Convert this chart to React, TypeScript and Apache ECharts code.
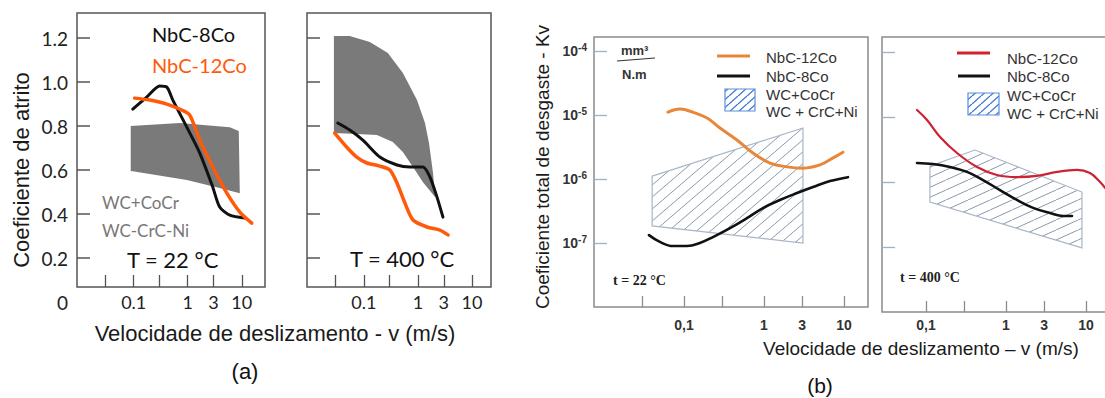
import { useEffect, useRef } from 'react';
import * as echarts from 'echarts';

// ---------- (a) friction coefficient vs sliding speed ----------
const A22_8CO_V = [0.096, 0.174, 0.303, 0.41, 0.53, 0.96, 1.67, 2.9, 3.9, 6.0, 11.4];
const A22_8CO_F = [0.877, 0.932, 0.982, 0.977, 0.918, 0.795, 0.677, 0.523, 0.432, 0.395, 0.382];
const A22_12CO_V = [0.104, 0.198, 0.41, 0.77, 1.09, 1.67, 2.9, 5.3, 9.2, 15.3];
const A22_12CO_F = [0.927, 0.918, 0.9, 0.873, 0.85, 0.736, 0.614, 0.495, 0.409, 0.359];
const A22_BAND_TOP_V = [0.088, 0.71, 6.0, 8.8, 9.2];
const A22_BAND_TOP_F = [0.8, 0.814, 0.795, 0.777, 0.495];
const A22_BAND_BOT_V = [3.9, 0.96, 0.096, 0.088];
const A22_BAND_BOT_F = [0.518, 0.555, 0.595, 0.595];

const A400_8CO_V = [0.033, 0.055, 0.096, 0.198, 0.41, 0.71, 1.24, 1.67, 2.25, 2.9];
const A400_8CO_F = [0.814, 0.782, 0.736, 0.659, 0.623, 0.614, 0.614, 0.568, 0.477, 0.386];
const A400_12CO_V = [0.029, 0.048, 0.074, 0.114, 0.198, 0.303, 0.41, 0.574, 0.81, 1.47, 2.55, 3.6];
const A400_12CO_F = [0.768, 0.705, 0.659, 0.632, 0.618, 0.6, 0.541, 0.45, 0.373, 0.341, 0.327, 0.305];
const A400_BAND_TOP_V = [0.028, 0.055, 0.129, 0.278, 0.527, 0.96, 1.35, 1.6, 1.9, 2.07];
const A400_BAND_TOP_F = [1.209, 1.209, 1.182, 1.132, 1.041, 0.918, 0.814, 0.723, 0.586, 0.477];
const A400_BAND_BOT_V = [1.24, 0.81, 0.527, 0.344, 0.174, 0.074, 0.028];
const A400_BAND_BOT_F = [0.545, 0.614, 0.682, 0.727, 0.759, 0.764, 0.768];

// ---------- (b) total wear coefficient vs sliding speed ----------
const B22_12CO_V = [0.063, 0.089, 0.129, 0.194, 0.282, 0.459, 0.728, 1.19, 1.94, 3.08, 5.0, 7.3, 9.7];
const B22_12CO_K = [1.11e-5, 1.24e-5, 1.11e-5, 8.97e-6, 6.27e-6, 4.07e-6, 2.55e-6, 1.78e-6, 1.55e-6, 1.48e-6, 1.66e-6, 2.14e-6, 2.63e-6];
const B22_8CO_V = [0.0365, 0.05, 0.0728, 0.109, 0.158, 0.23, 0.376, 0.612, 0.97, 1.58, 2.59, 4.1, 6.68, 11.2];
const B22_8CO_K = [1.33e-7, 1.04e-7, 8.97e-8, 8.97e-8, 1.0e-7, 1.24e-7, 1.71e-7, 2.45e-7, 3.52e-7, 4.7e-7, 6.04e-7, 7.5e-7, 9.3e-7, 1.07e-6];
const B22_WC_V = [0.04, 3.07, 3.07, 0.04];
const B22_WC_K = [1.11e-6, 6.27e-6, 1.0e-7, 1.85e-7];

const B400_12CO_V = [0.0772, 0.103, 0.15, 0.244, 0.434, 0.772, 1.37, 2.44, 4.34, 7.72, 11.2, 15.0, 17.3];
const B400_12CO_K = [1.28e-5, 9.0e-6, 4.92e-6, 2.79e-6, 1.7e-6, 1.28e-6, 1.19e-6, 1.24e-6, 1.43e-6, 1.53e-6, 1.37e-6, 1.0e-6, 8.1e-7];
const B400_8CO_V = [0.0772, 0.122, 0.2, 0.326, 0.516, 0.841, 1.37, 2.18, 3.55, 5.16, 6.68];
const B400_8CO_K = [1.96e-6, 1.89e-6, 1.7e-6, 1.43e-6, 1.07e-6, 7.5e-7, 5.3e-7, 4.0e-7, 3.33e-7, 3.0e-7, 3.0e-7];
const B400_WC_V = [0.112, 0.41, 8.9, 8.9, 0.112];
const B400_WC_K = [1.76e-6, 3.1e-6, 7.0e-7, 9.7e-8, 4.9e-7];

// ---------- ticks ----------
const X_TICKS = [0.03, 0.1, 0.3, 1, 3, 10];
const X_TICKS_B400 = [0.1, 0.3, 1, 3, 10];
const X_LABEL_V = [0.1, 1, 3, 10];
const X_LABELS_A = ['0.1', '1', '3', '10'];
const X_LABELS_B = ['0,1', '1', '3', '10'];
const Y_A_TICKS = [0.2, 0.4, 0.6, 0.8, 1.0, 1.2];
const Y_A_LABELS = [0, 0.2, 0.4, 0.6, 0.8, 1.0, 1.2];
const Y_B_EXP = [-7, -6, -5, -4];

const lg = Math.log10;
const SANS = '"Liberation Sans", Arial, sans-serif';
const CAL = 'Lato, "Open Sans", sans-serif';
const SERIF = '"Liberation Serif", "Times New Roman", serif';

const ptsA = (v: number[], f: number[]) => v.map((x, i) => [lg(x), f[i]]);
const ptsB = (v: number[], k: number[]) => v.map((x, i) => [lg(x), lg(k[i])]);

function makeHatch(w: number, h: number, color: string, lw: number) {
  const c = document.createElement('canvas');
  c.width = w;
  c.height = h;
  const ctx = c.getContext('2d')!;
  ctx.strokeStyle = color;
  ctx.lineWidth = lw;
  for (const dx of [-w, 0, w]) {
    ctx.beginPath();
    ctx.moveTo(dx, h);
    ctx.lineTo(dx + w, 0);
    ctx.stroke();
  }
  return { image: c, repeat: 'repeat', imageWidth: w, imageHeight: h };
}

export default function App() {
  const ref = useRef<HTMLDivElement>(null);
  useEffect(() => {
    const chart = echarts.init(ref.current!, null, { renderer: 'svg' });

    const hatchL = makeHatch(14, 12, '#8899ae', 1);
    const hatchR = makeHatch(22, 10, '#8899ae', 1);
    const hatchLeg = makeHatch(9, 8, '#3a74d0', 1.3);

    const xAx = (gi: number, min: number, max: number, ticks: number[], names: string[], o: any) => ({
      type: 'value', gridIndex: gi, min, max, offset: o.offset || 0,
      axisLine: { show: false, onZero: false },
      splitLine: { show: false },
      axisTick: { show: true, inside: true, length: o.tickLen, customValues: ticks.map(lg), lineStyle: { color: o.tickColor, width: 1.3 } },
      axisLabel: {
        show: true, customValues: X_LABEL_V.map(lg), margin: o.margin,
        formatter: (v: number) => { const i = X_LABEL_V.findIndex((l) => Math.abs(lg(l) - v) < 1e-6); return i >= 0 ? names[i] : ''; },
        fontFamily: o.font, fontSize: o.fontSize, fontWeight: o.weight || 'normal', color: o.color,
      },
    });

    const yAxA = (gi: number, labels: boolean) => ({
      type: 'value', gridIndex: gi, min: 0, max: 1.314,
      axisLine: { show: false, onZero: false },
      splitLine: { show: false },
      axisTick: { show: true, inside: true, length: 13, customValues: Y_A_TICKS, lineStyle: { color: '#555', width: 1.5 } },
      axisLabel: {
        show: labels, customValues: Y_A_LABELS, margin: 9,
        formatter: (v: number) => (v === 0 ? '0' : v.toFixed(1)),
        fontFamily: CAL, fontSize: 19, color: '#222',
      },
    });

    const yAxB = (gi: number, max: number, labels: boolean) => ({
      type: 'value', gridIndex: gi, min: -8, max,
      axisLine: { show: false, onZero: false },
      splitLine: { show: false },
      axisTick: { show: true, inside: true, length: 13, customValues: Y_B_EXP, lineStyle: { color: '#9fb0bf', width: 1.3 } },
      axisLabel: {
        show: labels, customValues: Y_B_EXP, margin: 7,
        formatter: (v: number) => `{a|10}{b|${Math.round(v)}}`,
        rich: {
          a: { fontFamily: SANS, fontSize: 14, fontWeight: 'bold', color: '#333', lineHeight: 18 },
          b: { fontFamily: SANS, fontSize: 10, fontWeight: 'bold', color: '#333', verticalAlign: 'top' },
        },
      },
    });

    const poly = (xi: number, pts: number[][], style: any, z = 1) => ({
      type: 'custom', xAxisIndex: xi, yAxisIndex: xi, z,
      data: pts,
      renderItem: (params: any, api: any) => {
        if (params.dataIndex !== 0) return null;
        return { type: 'polygon', shape: { points: pts.map((p) => api.coord(p)) }, style };
      },
    });

    const line = (xi: number, name: string, pts: number[][], color: string, width: number, smooth = 0.3) => ({
      type: 'line', name, xAxisIndex: xi, yAxisIndex: xi, z: 3,
      data: pts, symbol: 'none', smooth,
      lineStyle: { color, width, cap: 'round', join: 'round' },
    });

    const bandA22 = ptsA(A22_BAND_TOP_V.concat(A22_BAND_BOT_V), A22_BAND_TOP_F.concat(A22_BAND_BOT_F));
    const bandA400 = ptsA(A400_BAND_TOP_V.concat(A400_BAND_BOT_V), A400_BAND_TOP_F.concat(A400_BAND_BOT_F));

    const gray = { fill: '#7a7a7a', stroke: 'none' };
    const hatchStyle = (h: any) => ({ fill: h, stroke: '#a9b6c6', lineWidth: 1.2 });

    const txt = (x: number, y: number, text: string, font: string, fill: string, extra: any = {}) => ({
      type: 'text', x, y, z: 10, rotation: extra.rotation || 0,
      style: {
        text, font, fill, x: 0, y: 0,
        align: extra.align || 'left', verticalAlign: 'middle',
        textAlign: extra.align || 'left', textVerticalAlign: 'middle',
      },
    });
    const seg = (x1: number, y1: number, x2: number, y2: number, stroke: string, w: number) => ({
      type: 'line', z: 10, shape: { x1, y1, x2, y2 }, style: { stroke, lineWidth: w },
    });

    const option: any = {
      animation: false,
      backgroundColor: '#ffffff',
      grid: [
        { left: 77, top: 13, width: 188, height: 289, outerBoundsMode: 'none' },
        { left: 307, top: 13, width: 184, height: 289, outerBoundsMode: 'none' },
        { left: 594, top: 37, width: 274, height: 270, show: true, borderColor: '#8a8a8a', borderWidth: 1.5, outerBoundsMode: 'none' },
        { left: 882, top: 37, width: 228, height: 275, show: true, borderColor: '#8a8a8a', borderWidth: 1.5, outerBoundsMode: 'none' },
      ],
      xAxis: [
        xAx(0, -2.05, 1.43, X_TICKS, X_LABELS_A, { offset: -15, tickLen: 12, tickColor: '#555', margin: 6, font: CAL, fontSize: 18, color: '#222' }),
        xAx(1, -2.05, 1.35, X_TICKS, X_LABELS_A, { offset: -15, tickLen: 12, tickColor: '#555', margin: 6, font: CAL, fontSize: 18, color: '#222' }),
        xAx(2, -2.125, 1.3, X_TICKS, X_LABELS_B, { tickLen: 11, tickColor: '#8d8d8d', margin: 11, font: SANS, fontSize: 14, weight: 'bold', color: '#333' }),
        xAx(3, -1.55, 1.3, X_TICKS_B400, X_LABELS_B, { tickLen: 11, tickColor: '#8d8d8d', margin: 6, font: SANS, fontSize: 14, weight: 'bold', color: '#333' }),
      ],
      yAxis: [yAxA(0, true), yAxA(1, false), yAxB(2, -3.78, true), yAxB(3, -3.77, false)],
      series: [
        poly(0, bandA22, gray),
        line(0, 'NbC-8Co', ptsA(A22_8CO_V, A22_8CO_F), '#111111', 3, 0.25),
        line(0, 'NbC-12Co', ptsA(A22_12CO_V, A22_12CO_F), '#ff5a0a', 3.5, 0.25),
        poly(1, bandA400, gray),
        line(1, 'NbC-8Co', ptsA(A400_8CO_V, A400_8CO_F), '#111111', 3, 0.25),
        line(1, 'NbC-12Co', ptsA(A400_12CO_V, A400_12CO_F), '#ff5a0a', 3.5, 0.25),
        poly(2, ptsB(B22_WC_V, B22_WC_K), hatchStyle(hatchL)),
        line(2, 'NbC-12Co', ptsB(B22_12CO_V, B22_12CO_K), '#e8873a', 3, 0.4),
        line(2, 'NbC-8Co', ptsB(B22_8CO_V, B22_8CO_K), '#111111', 2.6, 0.4),
        poly(3, ptsB(B400_WC_V, B400_WC_K), hatchStyle(hatchR)),
        line(3, 'NbC-12Co', ptsB(B400_12CO_V, B400_12CO_K), '#cc2233', 2.2, 0.4),
        line(3, 'NbC-8Co', ptsB(B400_8CO_V, B400_8CO_K), '#111111', 2.6, 0.4),
      ],
      graphic: [
        // frames of (a)
        { type: 'rect', z: 5, shape: { x: 77, y: 13, width: 188, height: 274 }, style: { fill: 'none', stroke: '#555', lineWidth: 1.5 } },
        { type: 'rect', z: 5, shape: { x: 307, y: 13, width: 184, height: 274 }, style: { fill: 'none', stroke: '#555', lineWidth: 1.5 } },
        // (a) texts
        txt(152, 34, 'NbC-8Co', `20px ${CAL}`, '#111'),
        txt(152, 65, 'NbC-12Co', `20px ${CAL}`, '#ff5a0a'),
        txt(102, 202, 'WC+CoCr', `17px ${CAL}`, '#777'),
        txt(102, 230, 'WC-CrC-Ni', `17px ${CAL}`, '#777'),
        txt(127, 259, 'T = 22 °C', `22px ${CAL}`, '#111'),
        txt(350, 258, 'T = 400 °C', `22px ${CAL}`, '#111'),
        txt(21, 170, 'Coeficiente de atrito', `22px ${SANS}`, '#1a1a1a', { align: 'center', rotation: Math.PI / 2 }),
        txt(275, 333, 'Velocidade de deslizamento - v (m/s)', `22px ${SANS}`, '#1a1a1a', { align: 'center' }),
        txt(245, 371, '(a)', `22px ${SANS}`, '#111', { align: 'center' }),
        // (b) texts
        txt(542, 167, 'Coeficiente total de desgaste - Kv', `19px ${SANS}`, '#1a1a1a', { align: 'center', rotation: Math.PI / 2 }),
        txt(921, 348, 'Velocidade de deslizamento – v (m/s)', `19px ${SANS}`, '#1a1a1a', { align: 'center' }),
        txt(820, 385, '(b)', `21px ${SANS}`, '#111', { align: 'center' }),
        txt(621, 50, 'mm³', `bold 13px ${SANS}`, '#333'),
        seg(617, 61, 655, 58, '#333', 1.2),
        txt(622, 74, 'N.m', `bold 13px ${SANS}`, '#333'),
        txt(613, 280, 't = 22 °C', `bold 14px ${SERIF}`, '#222'),
        txt(900, 277, 't = 400 °C', `bold 14px ${SERIF}`, '#222'),
        // legend (b) left
        seg(717, 56, 750, 56, '#e8873a', 3),
        txt(766, 57, 'NbC-12Co', `15px ${SANS}`, '#333'),
        seg(717, 76, 750, 76, '#111', 3),
        txt(766, 76, 'NbC-8Co', `15px ${SANS}`, '#333'),
        { type: 'rect', z: 10, shape: { x: 725, y: 89, width: 30, height: 22 }, style: { fill: hatchLeg, stroke: '#5a8fdc', lineWidth: 1.2 } },
        txt(766, 94, 'WC+CoCr', `15px ${SANS}`, '#333'),
        txt(766, 111, 'WC + CrC+Ni', `15px ${SANS}`, '#333'),
        // legend (b) right
        seg(957, 53, 990, 53, '#d6202c', 3),
        txt(1007, 58, 'NbC-12Co', `15px ${SANS}`, '#333'),
        seg(958, 76, 990, 76, '#111', 3),
        txt(1007, 76, 'NbC-8Co', `15px ${SANS}`, '#333'),
        { type: 'rect', z: 10, shape: { x: 968, y: 93, width: 31, height: 22 }, style: { fill: hatchLeg, stroke: '#5a8fdc', lineWidth: 1.2 } },
        txt(1007, 95, 'WC+CoCr', `15px ${SANS}`, '#333'),
        txt(1007, 113, 'WC + CrC+Ni', `15px ${SANS}`, '#333'),
      ],
    };

    chart.setOption(option);
    return () => chart.dispose();
  }, []);

  return <div ref={ref} style={{ position: 'fixed', left: 0, top: 0, width: 1105, height: 398, background: '#fff' }} />;
}
